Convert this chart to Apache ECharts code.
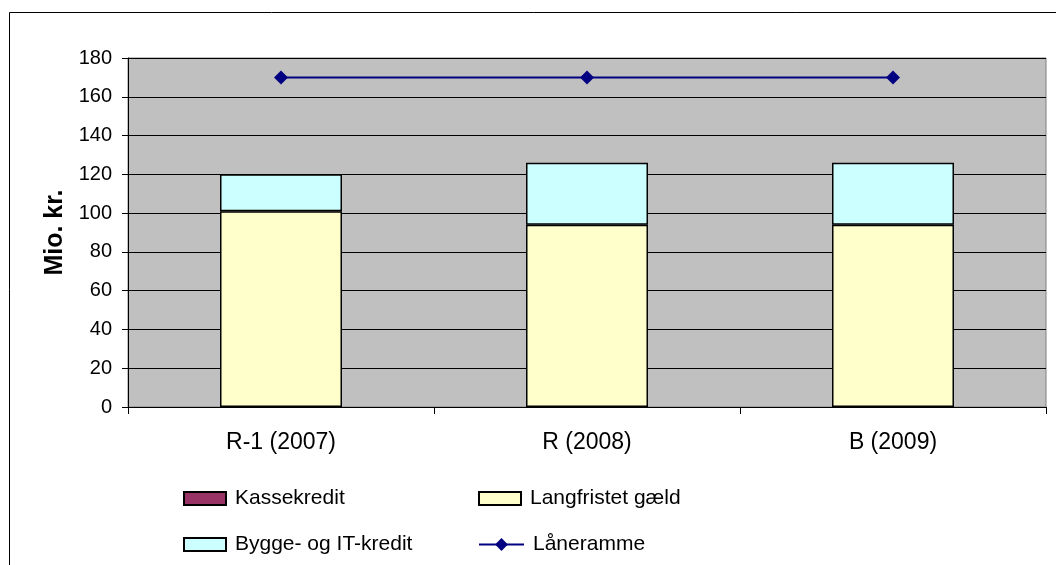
<!DOCTYPE html>
<html>
<head>
<meta charset="utf-8">
<script src="https://cdn.jsdelivr.net/npm/echarts@6/dist/echarts.min.js"></script>
<style>html,body{margin:0;padding:0;background:#fff}#c{width:1056px;height:565px}</style>
</head>
<body>
<div id="c"></div>
<script>
const categories = ['R-1 (2007)', 'R (2008)', 'B (2009)'];
const kassekredit = [0, 0, 0];
const langfristet = [101, 94, 94];
const byggeIT = [19, 32, 32];
const laaneramme = [170, 170, 170];
const yTicks = { min: 0, max: 180, interval: 20 };

const chart = echarts.init(document.getElementById('c'), null, { renderer: 'canvas' });
const font = 'Liberation Sans, Arial, sans-serif';
const barBorder = { borderColor: '#000', borderWidth: 1.5 };
const legendBase = (name, left, top) => ({
  data: [{ name: name, icon: name === 'Låneramme' ? undefined : 'rect' }], left: left, top: top, orient: 'horizontal',
  itemWidth: 42, itemHeight: 13, padding: 0,
  textStyle: { fontFamily: font, fontSize: 21, color: '#000', padding: [0, 0, 0, 4] }
});
chart.setOption({
  animation: false,
  graphic: [{ type: 'rect', left: 7, top: 10, shape: { width: 1100, height: 600 }, style: { fill: 'none', stroke: '#000', lineWidth: 1 }, z: -1 }],
  grid: { left: 128, right: 10, top: 58, bottom: 158, show: true, backgroundColor: '#C0C0C0', borderColor: '#808080', borderWidth: 1 },
  legend: [
    legendBase('Kassekredit', 183, 488),
    legendBase('Langfristet gæld', 478, 488),
    legendBase('Bygge- og IT-kredit', 183, 534),
    Object.assign(legendBase('Låneramme', 478, 534), { itemWidth: 45, itemHeight: 16 })
  ],
  xAxis: {
    type: 'category', data: categories, boundaryGap: true,
    axisLine: { lineStyle: { color: '#000', width: 1 } },
    axisTick: { show: true, interval: 0, length: 7, lineStyle: { color: '#000' } },
    axisLabel: { fontFamily: font, fontSize: 23, color: '#000', margin: 24 }
  },
  yAxis: {
    type: 'value', min: yTicks.min, max: yTicks.max, interval: yTicks.interval,
    name: 'Mio. kr.', nameLocation: 'middle', nameRotate: 90, nameGap: 60,
    nameTextStyle: { fontFamily: font, fontSize: 25, fontWeight: 'bold', color: '#000' },
    axisLine: { show: true, lineStyle: { color: '#000', width: 1 } },
    axisTick: { show: true, length: 6, lineStyle: { color: '#000' } },
    axisLabel: { fontFamily: font, fontSize: 20, color: '#000', margin: 16 },
    splitLine: { show: true, lineStyle: { color: '#000', width: 1 } }
  },
  series: [
    { name: 'Kassekredit', type: 'bar', stack: 's', data: kassekredit, barWidth: 122, itemStyle: Object.assign({ color: '#993366' }, barBorder) },
    { name: 'Langfristet gæld', type: 'bar', stack: 's', data: langfristet, barWidth: 122, itemStyle: Object.assign({ color: '#FFFFCC' }, barBorder) },
    { name: 'Bygge- og IT-kredit', type: 'bar', stack: 's', data: byggeIT, barWidth: 122, itemStyle: Object.assign({ color: '#CCFFFF' }, barBorder) },
    { name: 'Låneramme', type: 'line', data: laaneramme, symbol: 'diamond', symbolSize: 14,
      lineStyle: { color: '#000080', width: 2 }, itemStyle: { color: '#000080' } }
  ]
});
</script>
</body>
</html>
